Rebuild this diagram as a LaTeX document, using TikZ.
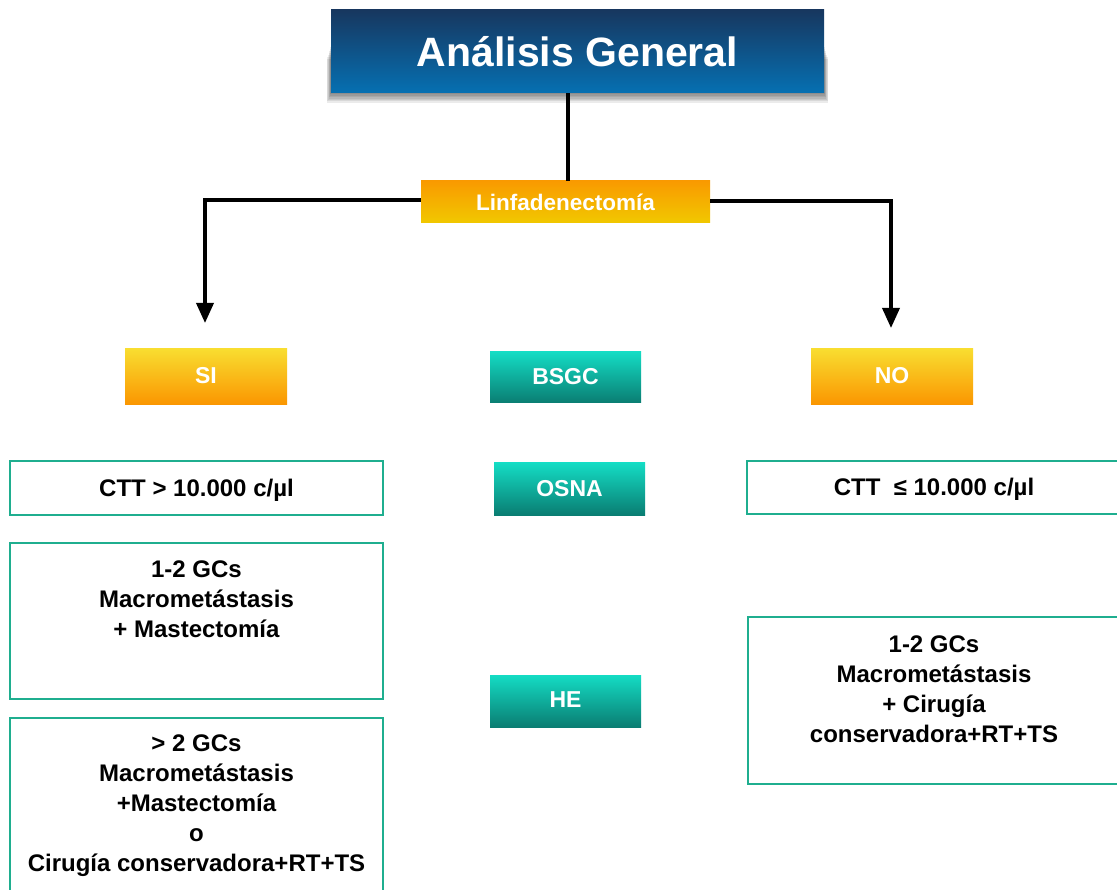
\documentclass[tikz,border=0pt]{standalone}
\usepackage{fontspec}
\setmainfont{Liberation Sans}
\usetikzlibrary{arrows.meta,calc}
\definecolor{navytop}{HTML}{17375F}
\definecolor{navybot}{HTML}{0670B2}
\definecolor{ortop}{HTML}{F99A00}
\definecolor{orbot}{HTML}{F1C800}
\definecolor{ytop}{HTML}{F9DD30}
\definecolor{ybot}{HTML}{FA9500}
\definecolor{tltop}{HTML}{14DCC4}
\definecolor{tlbot}{HTML}{0A7D72}
\definecolor{bord}{HTML}{1FAE8F}
\tikzset{
  titlebox/.style={rectangle, inner sep=0pt, top color=navytop, bottom color=navybot,
    text=white, font=\fontsize{41}{46}\selectfont\bfseries},
  linfbox/.style={rectangle, inner sep=0pt, top color=ortop, bottom color=orbot,
    text=white, font=\fontsize{22.5}{25}\selectfont\bfseries},
  sinobox/.style={rectangle, inner sep=0pt, top color=ytop, bottom color=ybot,
    text=white, font=\fontsize{23}{25}\selectfont\bfseries,
    minimum width=162pt, minimum height=56pt},
  tealbox/.style={rectangle, inner sep=0pt, top color=tltop, bottom color=tlbot,
    text=white, font=\fontsize{23}{25}\selectfont\bfseries,
    minimum width=151pt, minimum height=51pt},
  outbox/.style={rectangle, inner sep=0pt, draw=bord, line width=1.3pt, fill=white},
  boxtext/.style={align=center, inner sep=0pt, font=\fontsize{24}{30}\selectfont\bfseries, text=black},
  conn/.style={line width=3.5pt, black},
  arr/.style={conn, -{Triangle[width=17pt,length=20pt]}},
  shadowlayer/.style={fill=black, opacity=0.08}
}
\begin{document}
\begin{tikzpicture}[x=1pt,y=-1pt]
\useasboundingbox (0,0) rectangle (1117,890);
\clip (0,0) rectangle (1117,890);
\fill[white] (0,0) rectangle (1117,890);

% soft shadow under the title
\foreach \i in {1,...,7}{
  \fill[shadowlayer] (331-\i*0.6,45+\i*2) rectangle (824+\i*0.6,93+\i*1.4);
}
% title
\node[titlebox, minimum width=493pt, minimum height=83pt] (title) at (577.5,51.5) {Análisis General};
% linfadenectomia
\node[linfbox, minimum width=289pt, minimum height=42pt] (linf) at (565.5,202) {Linfadenectomía};
\draw[conn] (linf.north -| 568,0) -- (568,93) coordinate (tb);

% branches
\coordinate (sitip) at (205,323);
\coordinate (notip) at (891,328);
\draw[arr] (linf.west |- 0,200) -- (205,200) -- (sitip);
\draw[arr] (linf.east |- 0,201) -- (891,201) -- (notip);

% SI / NO
\node[sinobox] (si) at (206,377) {\raisebox{4pt}{SI}};
\node[sinobox] (no) at (892,377) {\raisebox{4pt}{NO}};

% teal column
\node[tealbox] (bsgc) at (565.5,377.5) {\raisebox{2pt}{BSGC}};
\node[tealbox, minimum height=52pt] (osna) at (569.5,489) {\raisebox{2pt}{OSNA}};
\node[tealbox, minimum height=52pt] (he) at (565.5,701) {\raisebox{2pt}{HE}};

% left column
\node[outbox, minimum width=373pt, minimum height=54pt] (ctt1) at (196.5,488) {};
\node[boxtext] (ctt1t) at (196.5,490) {CTT > 10.000 c/µl};

\node[outbox, minimum width=373pt, minimum height=156pt] (gc1) at (196.5,621) {};
\node[boxtext] (gc1t) at (196.5,599) {1-2 GCs\\Macrometástasis\\+ Mastectomía};

\node[outbox, minimum width=373pt, minimum height=190pt] (gc2) at (196.5,813) {};
\node[boxtext] (gc2t) at (196.5,806) {> 2 GCs\\Macrometástasis\\+Mastectomía\\o\\Cirugía conservadora+RT+TS};

% right column
\node[outbox, minimum width=380pt, minimum height=53pt] (ctt2) at (937,487.5) {};
\node[boxtext] (ctt2t) at (934,489.5) {CTT \ ≤ 10.000 c/µl};

\node[outbox, minimum width=380pt, minimum height=167pt] (gc3) at (938,700.5) {};
\node[boxtext] (gc3t) at (934,689) {1-2 GCs\\Macrometástasis\\+ Cirugía\\conservadora+RT+TS};
\end{tikzpicture}
\end{document}
